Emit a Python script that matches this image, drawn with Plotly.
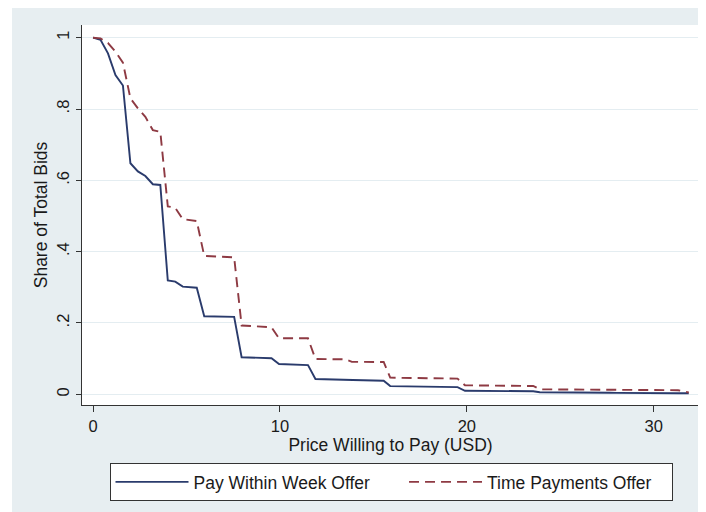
import plotly.graph_objects as go

# Data
week_x = [0.0, 0.4, 0.8, 1.2, 1.6, 2.0, 2.4, 2.8, 3.2, 3.6, 4.0, 4.4, 4.8, 5.55, 5.95,
          7.55, 7.95, 9.55, 9.95, 11.5, 11.9, 13.6, 13.9, 15.55, 15.9, 19.5, 19.9,
          23.55, 23.9, 27.65, 28.0, 31.3, 31.87]
week_y = [1.0, 0.994, 0.956, 0.895, 0.866, 0.648, 0.625, 0.612, 0.589, 0.587, 0.319, 0.316,
          0.302, 0.299, 0.219, 0.217, 0.104, 0.101, 0.085, 0.082, 0.043, 0.042, 0.040,
          0.038, 0.023, 0.020, 0.010, 0.0085, 0.0058, 0.0045, 0.004, 0.003, 0.003]

time_x = [0.0, 0.4, 0.8, 1.2, 1.6, 2.0, 2.4, 2.8, 3.2, 3.6, 4.0, 4.4, 4.8, 5.55, 5.95,
          7.55, 7.95, 9.55, 9.95, 11.5, 11.9, 13.5, 13.85, 15.55, 15.9, 19.5, 19.9,
          23.55, 23.9, 27.65, 28.0, 31.3, 31.87]
time_y = [1.0, 0.998, 0.985, 0.961, 0.930, 0.830, 0.802, 0.778, 0.741, 0.736, 0.527, 0.523,
          0.491, 0.486, 0.388, 0.384, 0.193, 0.188, 0.157, 0.157, 0.099, 0.098, 0.091,
          0.0906, 0.0466, 0.044, 0.0252, 0.0233, 0.014, 0.012, 0.0115, 0.0115, 0.005]

y_ticks = [0, 0.2, 0.4, 0.6, 0.8, 1.0]
y_tick_text = ["0", ".2", ".4", ".6", ".8", "1"]
x_ticks = [0, 10, 20, 30]
x_tick_text = ["0", "10", "20", "30"]

series_names = ["Pay Within Week Offer", "Time Payments Offer"]

BG = "#e7eef1"
FONT = "Liberation Sans, Arial, Helvetica, sans-serif"
TXT = 17.5
TICK = 16.5

fig = go.Figure()
fig.add_trace(go.Scatter(x=week_x, y=week_y, mode="lines",
                         name=series_names[0] + "&nbsp;" * 6,
                         line=dict(color="#2a3b6c", width=1.9)))
fig.add_trace(go.Scatter(x=time_x, y=time_y, mode="lines",
                         name=series_names[1] + "&nbsp;" * 3,
                         line=dict(color="#8e3a43", width=1.9, dash="10px,6px")))

# page body adds an 8px offset; figure sized to fill the rest of the window
W, H = 698, 504
ml, mr, mt, mb = 74, 7, 17, 107
pw, ph = W - ml - mr, H - mt - mb

fig.update_layout(
    width=W, height=H,
    margin=dict(l=ml, r=mr, t=mt, b=mb, pad=0, autoexpand=False),
    paper_bgcolor=BG, plot_bgcolor="white",
    font=dict(family=FONT, size=TXT, color="#1a1a1a"),
    xaxis=dict(range=[-0.59, 32.42], tickvals=x_ticks, ticktext=x_tick_text,
               showgrid=False, zeroline=False, showline=True, linecolor="#333", linewidth=1,
               ticks="outside", ticklen=6, tickcolor="#333", automargin=False,
               title=dict(text="Price Willing to Pay (USD)", standoff=4, font=dict(size=TXT)),
               tickfont=dict(size=TICK)),
    yaxis=dict(range=[-0.030, 1.0356], tickvals=y_ticks, ticktext=y_tick_text,
               showgrid=True, gridcolor="#e4edf1", gridwidth=1, zeroline=False,
               showline=True, linecolor="#333", linewidth=1, automargin=False,
               ticks="outside", ticklen=5, tickcolor="#333", tickangle=-90,
               ticklabelstandoff=0,
               title=dict(text="Share of Total Bids", standoff=2, font=dict(size=TXT)),
               tickfont=dict(size=TICK)),
    showlegend=True,
    legend=dict(orientation="h", x=383 / W, xanchor="center", xref="container",
                y=1 - 455 / H, yanchor="top", yref="container",
                bgcolor="white", bordercolor="#333", borderwidth=1,
                font=dict(size=TXT), itemwidth=73, tracegroupgap=0),
    shapes=[
        dict(type="rect", xref="paper", yref="paper", x0=-ml / pw, x1=(4 - ml) / pw,
             y0=-mb / ph, y1=(ph + mt) / ph, fillcolor="white", line=dict(width=0), layer="below"),
    ],
)

fig.write_html("out.html")
